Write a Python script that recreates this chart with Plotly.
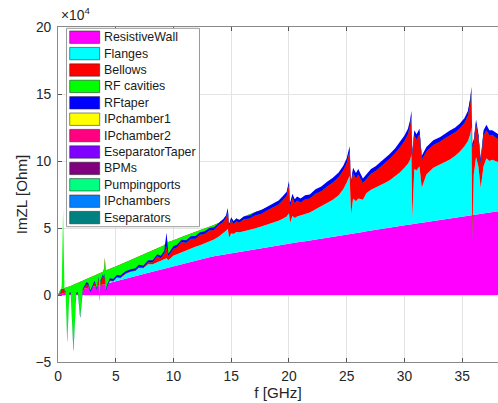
import plotly.graph_objects as go

# ---------------------------------------------------------------------------
# Imaginary part of the longitudinal impedance, per machine element.
# Values are in units of 1e4 Ohm, sampled on a common frequency grid [GHz].
# ---------------------------------------------------------------------------
freq_ghz = [
    0.00, 0.20, 0.32, 0.44, 0.56, 0.66, 0.80, 0.98, 1.10, 1.34,
    1.58, 1.72, 1.92, 2.15, 2.45, 2.62, 2.80, 3.00, 3.17, 3.37,
    3.52, 3.60, 3.68, 3.90, 4.00, 4.06, 4.12, 4.25, 4.50, 4.78,
    5.10, 5.40, 5.85, 6.30, 6.70, 7.00, 7.40, 7.80, 8.20, 8.60,
    8.90, 9.20, 9.40, 9.55, 9.75, 10.00, 10.30, 10.70, 11.10, 11.50,
    11.90, 12.30, 12.70, 13.10, 13.50, 13.90, 14.30, 14.55, 14.70, 14.82,
    15.00, 15.20, 15.45, 15.70, 16.10, 16.60, 17.10, 17.60, 18.10, 18.60,
    19.10, 19.50, 19.80, 20.00, 20.10, 20.30, 20.50, 20.70, 21.00, 21.40,
    21.80, 22.30, 22.80, 23.30, 23.80, 24.30, 24.70, 25.00, 25.25, 25.38,
    25.55, 25.80, 26.00, 26.40, 26.70, 27.10, 27.50, 27.90, 28.30, 28.70,
    29.20, 29.60, 30.00, 30.30, 30.50, 30.60, 30.68, 30.85, 31.05, 31.30,
    31.50, 31.90, 32.50, 33.10, 33.50, 33.90, 34.40, 34.80, 35.20, 35.50,
    35.70, 35.80, 35.88, 36.00, 36.20, 36.40, 36.60, 36.85, 37.10, 37.35,
    37.60, 37.90, 38.20, 38.50,
]

resistive_wall = [
    0.00, 0.07, 0.10, 0.13, 0.16, 0.18, 0.21, 0.25, 0.27, 0.31,
    0.35, 0.38, 0.41, 0.45, 0.50, 0.53, 0.56, 0.60, 0.63, 0.67,
    0.70, 0.72, 0.73, 0.78, 0.81, 0.82, 0.83, 0.86, 0.92, 0.98,
    1.05, 1.11, 1.21, 1.31, 1.40, 1.47, 1.56, 1.65, 1.74, 1.83,
    1.90, 1.95, 2.00, 2.03, 2.08, 2.15, 2.22, 2.32, 2.42, 2.50,
    2.58, 2.66, 2.74, 2.82, 2.89, 2.95, 3.00, 3.04, 3.06, 3.08,
    3.10, 3.13, 3.17, 3.21, 3.28, 3.36, 3.43, 3.50, 3.57, 3.64,
    3.71, 3.77, 3.81, 3.84, 3.85, 3.88, 3.91, 3.93, 3.97, 4.02,
    4.08, 4.15, 4.22, 4.29, 4.36, 4.43, 4.48, 4.52, 4.55, 4.57,
    4.59, 4.63, 4.66, 4.71, 4.75, 4.81, 4.86, 4.91, 4.97, 5.02,
    5.09, 5.14, 5.20, 5.24, 5.26, 5.28, 5.29, 5.31, 5.34, 5.37,
    5.40, 5.45, 5.53, 5.61, 5.66, 5.71, 5.78, 5.83, 5.88, 5.92,
    5.94, 5.96, 5.97, 5.98, 6.01, 6.03, 6.06, 6.09, 6.12, 6.15,
    6.18, 6.22, 6.26, 6.30,
]

flanges = [
    0.00, 0.00, 0.00, 0.00, 0.00, 0.00, 0.00, 0.00, 0.00, 0.00,
    0.00, 0.00, 0.00, 0.00, 0.00, 0.00, 0.00, 0.00, 0.00, 0.00,
    0.00, 0.00, 0.00, 0.00, 0.00, 0.00, 0.00, 0.00, 0.13, 0.02,
    0.25, 0.14, 0.36, 0.42, 0.40, 0.55, 0.44, 0.65, 0.56, 0.62,
    0.65, 0.70, 0.75, 0.57, 0.70, 0.80, 0.83, 0.88, 0.88, 0.95,
    1.02, 1.06, 1.11, 1.18, 1.26, 1.40, 1.60, 1.76, 1.89, 1.22,
    1.50, 1.42, 1.53, 1.47, 1.47, 1.49, 1.55, 1.62, 1.68, 1.76,
    1.84, 1.93, 2.04, 2.26, 1.55, 2.02, 1.84, 1.92, 1.98, 2.03,
    2.07, 2.25, 2.38, 2.56, 2.74, 3.02, 3.42, 3.88, 4.35, 1.43,
    2.61, 2.37, 2.54, 2.39, 2.85, 3.04, 3.14, 3.29, 3.38, 3.53,
    3.76, 4.01, 4.30, 4.56, 4.84, 5.22, 0.41, 4.09, 3.96, 4.23,
    2.60, 3.55, 3.97, 4.14, 4.24, 4.39, 4.62, 4.87, 5.22, 5.58,
    6.06, 6.54, -1.97, 3.02, 4.29, 3.57, 1.94, 3.51, 4.08, 3.85,
    3.92, 3.78, 3.64, 3.50,
]

bellows = [
    0.00, 0.33, 0.35, 0.35, 0.34, 0.34, 0.36, 0.39, 0.41, 0.46,
    0.51, 0.53, 0.57, 0.62, 0.69, 0.72, 0.76, 0.79, 0.83, 0.86,
    0.89, 0.90, 0.92, 0.95, 1.19, 1.98, 0.99, 1.00, 0.90, 1.05,
    0.87, 1.03, 0.88, 0.89, 0.97, 0.86, 1.03, 0.88, 1.03, 1.03,
    1.05, 1.07, 1.25, 1.35, 1.24, 1.13, 1.13, 1.12, 1.15, 1.10,
    1.06, 1.08, 1.08, 1.07, 1.07, 1.03, 1.00, 1.00, 1.35, 0.90,
    1.15, 0.95, 1.00, 0.92, 1.10, 1.20, 1.22, 1.23, 1.25, 1.30,
    1.40, 1.50, 1.65, 2.20, 1.30, 1.50, 1.25, 1.35, 1.10, 1.25,
    1.20, 1.30, 1.30, 1.40, 1.50, 1.50, 1.55, 1.60, 1.90, 2.30,
    2.10, 1.90, 2.00, 1.40, 1.25, 1.35, 1.45, 1.55, 1.65, 1.80,
    1.95, 2.05, 2.20, 2.40, 2.80, 3.00, 4.80, 2.70, 2.50, 2.60,
    2.30, 1.90, 1.90, 1.90, 2.00, 2.00, 1.95, 1.95, 1.95, 2.10,
    2.50, 2.70, 7.10, 2.50, 2.50, 2.30, 2.00, 2.50, 2.30, 2.10,
    2.05, 1.95, 1.90, 1.85,
]

rf_cavities = [
    0.00, -0.30, 0.15, 5.87, -0.20, -0.32, -4.07, -0.59, -0.58, -4.97,
    -0.81, -0.76, -2.68, -0.72, -0.39, -0.50, -1.12, -0.79, -0.54, -1.18,
    -0.34, -2.07, -0.70, -0.33, -0.90, -1.30, -1.62, -1.26, -0.85, -1.00,
    -0.82, -0.98, -0.83, -0.84, -0.92, -0.78, -0.98, -0.73, -0.88, -0.58,
    -0.85, -0.62, -0.40, -1.05, -0.90, -0.63, -0.63, -0.37, -0.55, -0.35,
    -0.46, -0.30, -0.38, -0.25, -0.37, -0.18, -0.15, -0.05, -0.10, -0.10,
    -0.15, -0.20, -0.20, -0.20, -0.20, -0.35, -0.25, -0.30, -0.20, -0.20,
    -0.20, -0.10, -0.10, -0.10, -0.10, -0.15, -0.15, -0.15, -0.15, -0.15,
    -0.15, -0.15, -0.15, -0.15, -0.20, -0.15, -0.15, -0.15, -0.10, -0.10,
    -0.20, -0.20, -0.20, -0.15, -0.20, -0.15, -0.20, -0.20, -0.20, -0.20,
    -0.20, -0.20, -0.20, -0.20, -0.20, -0.10, -0.10, -0.20, -0.20, -0.20,
    -0.20, -0.20, -0.20, -0.20, -0.20, -0.20, -0.20, -0.20, -0.20, -0.20,
    -0.20, 0.00, -0.10, -0.20, -0.10, -0.20, -0.20, -0.20, -0.20, -0.20,
    -0.20, -0.20, -0.20, -0.20,
]

rf_taper = [
    0.00, 0.05, 0.05, 0.07, 0.05, 0.08, 0.15, 0.10, 0.10, 0.18,
    0.10, 0.10, 0.15, 0.12, 0.15, 0.15, 0.13, 0.14, 0.14, 0.13,
    0.15, 0.15, 0.15, 0.15, 0.15, 0.15, 0.15, 0.15, 0.15, 0.15,
    0.15, 0.15, 0.15, 0.15, 0.15, 0.15, 0.15, 0.15, 0.15, 0.15,
    0.17, 0.20, 1.07, 0.18, 0.18, 0.20, 0.20, 0.17, 0.18, 0.18,
    0.20, 0.18, 0.20, 0.18, 0.20, 0.18, 0.20, 0.20, 0.29, 0.20,
    0.20, 0.20, 0.20, 0.20, 0.20, 0.25, 0.25, 0.30, 0.30, 0.30,
    0.30, 0.30, 0.30, 0.30, 0.30, 0.30, 0.30, 0.30, 0.30, 0.30,
    0.30, 0.35, 0.35, 0.35, 0.35, 0.35, 0.35, 0.35, 0.40, 0.30,
    0.40, 0.40, 0.40, 0.35, 0.35, 0.35, 0.35, 0.35, 0.35, 0.35,
    0.35, 0.40, 0.40, 0.40, 0.40, 0.35, 0.30, 0.40, 0.40, 0.40,
    0.30, 0.35, 0.35, 0.35, 0.35, 0.35, 0.35, 0.35, 0.35, 0.35,
    0.40, 0.35, 0.30, 0.30, 0.40, 0.35, 0.35, 0.40, 0.40, 0.40,
    0.35, 0.35, 0.35, 0.35,
]

# Remaining elements are negligible on this scale (end points only).
minor_freq_ghz = [0.0, 38.5]
ipchamber1 = [0.0, 0.0]
ipchamber2 = [0.0, 0.0]
eseparator_taper = [0.0, 0.0]
bpms = [0.0, 0.0]
pumping_ports = [0.0, 0.0]
ipchambers = [0.0, 0.0]
eseparators = [0.0, 0.0]

series_names = [
    "ResistiveWall", "Flanges", "Bellows", "RF cavities", "RFtaper",
    "IPchamber1", "IPchamber2", "EseparatorTaper", "BPMs",
    "Pumpingports", "IPchambers", "Eseparators",
]
series_colors = [
    "#ff00ff", "#00ffff", "#ff0000", "#00ff00", "#0000ff",
    "#ffff00", "#ff0080", "#8000ff", "#800080",
    "#00ff80", "#0080ff", "#008080",
]
series_x = [freq_ghz] * 5 + [minor_freq_ghz] * 7
series_y = [
    resistive_wall, flanges, bellows, rf_cavities, rf_taper,
    ipchamber1, ipchamber2, eseparator_taper, bpms,
    pumping_ports, ipchambers, eseparators,
]

x_ticks = [0, 5, 10, 15, 20, 25, 30, 35]
y_ticks = [-5, 0, 5, 10, 15, 20]

# Page geometry (pixels) of the axes box
FIG_W, FIG_H = 498, 403
L, T, W, H = 58, 27, 440, 335
FONT = "Liberation Sans, Arial, Helvetica, sans-serif"
TXT = "#262626"


def xp(px):
    return (px - L) / W


def yp(py):
    return (T + H - py) / H


fig = go.Figure()
for name, color, xs, ys in zip(series_names, series_colors, series_x, series_y):
    fig.add_trace(go.Scatter(
        x=xs, y=ys, name=name, mode="lines",
        stackgroup="imzl", stackgaps="infer zero",
        line=dict(width=0, color=color), fillcolor=color,
        hoverinfo="skip", showlegend=False,
    ))

axis_common = dict(
    showgrid=True, gridcolor="#e3e3e3", gridwidth=1,
    zeroline=False, showline=True, linecolor="#8a8a8a", linewidth=1,
    ticks="inside", ticklen=4, tickcolor="#555555",
    tickfont=dict(family=FONT, size=13.8, color=TXT),
    automargin=False,
)

fig.update_xaxes(range=[0, 38.1], tickmode="array", tickvals=x_ticks,
                 mirror="ticks", ticklabelstandoff=1,
                 title=dict(text="f [GHz]", standoff=3,
                            font=dict(family=FONT, size=15.2, color=TXT)),
                 **axis_common)
fig.update_yaxes(range=[-5, 20], tickmode="array", tickvals=y_ticks,
                 mirror=False, ticklabelstandoff=3,
                 title=dict(text="ImZL [Ohm]", standoff=4,
                            font=dict(family=FONT, size=15.2, color=TXT)),
                 **axis_common)

# Legend box, drawn on top of the data
shapes = [dict(type="rect", xref="paper", yref="paper", layer="above",
               x0=xp(66.5), x1=xp(199.5), y0=yp(226.7), y1=yp(28.3),
               fillcolor="white", line=dict(color="#9a9a9a", width=1))]
annotations = []
for i, (name, color) in enumerate(zip(series_names, series_colors)):
    cy = 37.2 + 16.4 * i
    shapes.append(dict(type="rect", xref="paper", yref="paper", layer="above",
                       x0=xp(69.7), x1=xp(99.7), y0=yp(cy + 6.2), y1=yp(cy - 6.2),
                       fillcolor=color, line=dict(color="rgba(40,40,40,0.55)", width=1)))
    annotations.append(dict(xref="paper", yref="paper", x=xp(102), y=yp(cy),
                            xanchor="left", yanchor="middle", showarrow=False,
                            text=name, font=dict(family=FONT, size=12.4, color="#1a1a1a")))

# Exponent label of the y axis
annotations.append(dict(xref="paper", yref="paper", x=xp(59), y=yp(14),
                        xanchor="left", yanchor="middle", showarrow=False,
                        text="×10<sup>4</sup>", font=dict(family=FONT, size=13.8, color=TXT)))

fig.update_layout(
    width=FIG_W, height=FIG_H,
    margin=dict(l=L, r=FIG_W - L - W, t=T, b=FIG_H - T - H, pad=0),
    paper_bgcolor="white", plot_bgcolor="white",
    showlegend=False, shapes=shapes, annotations=annotations,
)

fig.write_html("out.html")
